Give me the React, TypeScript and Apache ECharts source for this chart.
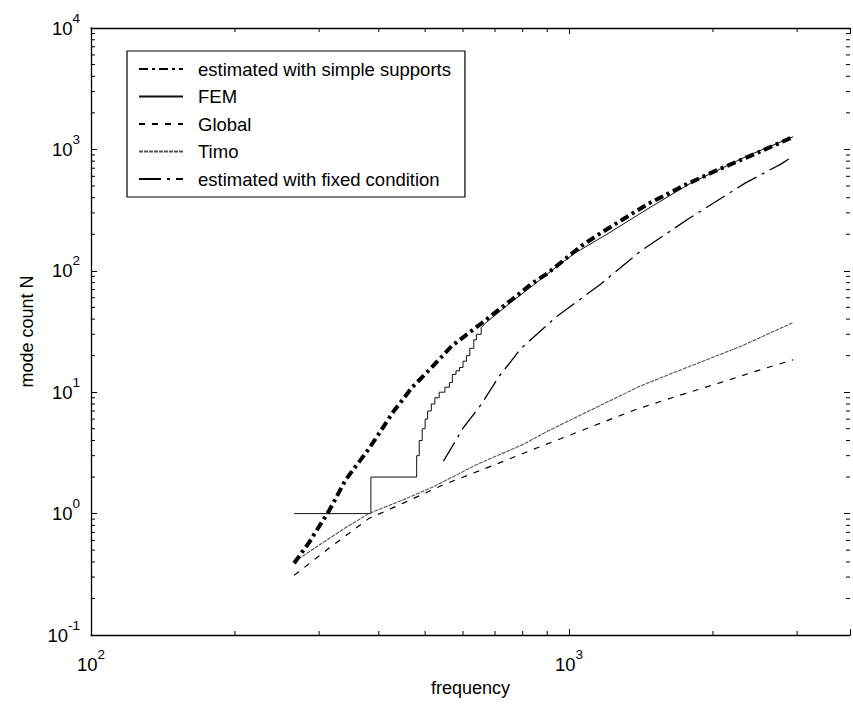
import React, { useEffect, useRef } from 'react';
import * as echarts from 'echarts';

// ---- data ----
const seriesNames = [
  'estimated with simple supports',
  'FEM',
  'Global',
  'Timo',
  'estimated with fixed condition',
];

const simpleFreq = [266, 286, 315, 341, 381, 430, 470, 516, 568, 656, 760, 834, 904, 1060, 1166, 1463, 1750, 2024, 2450, 2943];
const simpleN = [0.39, 0.58, 1.06, 1.9, 3.4, 7.0, 11, 16, 24, 37, 58, 78, 96, 160, 205, 356, 510, 665, 920, 1267];

const femFreq = [
  266, 385, 385, 480, 480, 486, 486, 493, 493, 500, 500, 506, 506, 515, 515, 524, 524, 535, 535, 550,
  550, 562, 562, 570, 570, 580, 580, 590, 590, 600, 600, 610, 610, 620, 620, 632, 632, 640, 640, 655,
  655, 668, 720, 760, 834, 930, 1029, 1200, 1463, 1800, 2371, 2943,
];
const femN = [
  1, 1, 2, 2, 3, 3, 4, 4, 5, 5, 6, 6, 7, 7, 8, 8, 9, 9, 10, 10,
  11, 11, 12, 12, 14, 14, 15, 15, 16, 16, 18, 18, 20, 20, 23, 23, 27, 27, 30, 30,
  34, 37, 47, 56, 74, 104, 140, 200, 325, 530, 890, 1270,
];

const globalFreq = [266, 315, 381, 450, 546, 700, 861, 1100, 1392, 1700, 2073, 2500, 2943];
const globalN = [0.31, 0.52, 0.91, 1.22, 1.73, 2.53, 3.5, 5.1, 7.3, 9.4, 12.0, 15.2, 18.5];

const timoFreq = [266, 300, 340, 381, 450, 516, 650, 800, 904, 1100, 1413, 1800, 2295, 2943];
const timoN = [0.4, 0.55, 0.76, 1.0, 1.3, 1.64, 2.6, 3.7, 4.8, 7.0, 11.3, 16.5, 24, 37.5];

const fixedFreq = [546, 601, 656, 711, 794, 935, 1166, 1413, 1778, 2340, 2780, 2943];
const fixedN = [2.7, 5.1, 8.0, 13.2, 23, 41, 78, 146, 268, 530, 760, 880];

const xRange = [100, 3870];
const yRange = [0.1, 10000];
const xMinorTicks = [200, 300, 400, 500, 600, 700, 800, 900, 2000, 3000];
const yMinorTicks = [
  0.2, 0.3, 0.4, 0.5, 0.6, 0.7, 0.8, 0.9,
  2, 3, 4, 5, 6, 7, 8, 9,
  20, 30, 40, 50, 60, 70, 80, 90,
  200, 300, 400, 500, 600, 700, 800, 900,
  2000, 3000, 4000, 5000, 6000, 7000, 8000, 9000,
];
const xTitle = 'frequency';
const yTitle = 'mode count N';

const FONT = '"Liberation Sans", Arial, Helvetica, sans-serif';

const zip = (xs: number[], ys: number[]) => xs.map((x, i) => [x, ys[i]]);

const powLabel = (v: number) => {
  const l = Math.log10(v);
  const e = Math.round(l);
  if (Math.abs(l - e) > 1e-6) return '';
  return `{b|10}{s|${e}}`;
};

const rich = {
  b: { fontSize: 18.5, lineHeight: 34, fontFamily: FONT, color: '#000' },
  s: { fontSize: 13.5, lineHeight: 13, verticalAlign: 'top', fontFamily: FONT, color: '#000' },
};

const axisLineStyle = { color: '#000', width: 1.3 };

export default function App() {
  const ref = useRef<HTMLDivElement>(null);

  useEffect(() => {
    if (!ref.current) return;
    const chart = echarts.init(ref.current, undefined, { renderer: 'svg' });

    const tickStyle = { stroke: '#000', lineWidth: 1 };

    const option: any = {
      animation: false,
      backgroundColor: '#fff',
      grid: { left: 91, top: 28, right: 0, bottom: 69, containLabel: false },
      legend: {
        orient: 'vertical',
        left: 127,
        top: 51,
        data: seriesNames,
        itemWidth: 44,
        itemHeight: 14,
        itemGap: 7.5,
        padding: [8, 14, 8, 11],
        borderColor: '#000',
        borderWidth: 1.2,
        backgroundColor: '#fff',
        itemStyle: { opacity: 0 },
        textStyle: { fontSize: 18.5, fontFamily: FONT, color: '#000', lineHeight: 20, padding: [0, 0, 0, 10] },
      },
      xAxis: [
        {
          type: 'log',
          logBase: 10,
          min: xRange[0],
          max: xRange[1],
          position: 'bottom',
          axisLine: { show: true, lineStyle: axisLineStyle },
          axisTick: { show: true, inside: true, length: 6, lineStyle: { color: '#000', width: 1 } },
          axisLabel: { formatter: powLabel, rich, margin: 12, color: '#000' },
          splitLine: { show: false },
          name: xTitle,
          nameLocation: 'middle',
          nameGap: 44,
          nameTextStyle: { fontSize: 18, fontFamily: FONT, color: '#000' },
        },
        {
          type: 'log',
          logBase: 10,
          min: xRange[0],
          max: xRange[1],
          position: 'top',
          axisLine: { show: true, lineStyle: axisLineStyle },
          axisTick: { show: true, inside: true, length: 6, lineStyle: { color: '#000', width: 1 } },
          axisLabel: { show: false },
          splitLine: { show: false },
        },
      ],
      yAxis: [
        {
          type: 'log',
          logBase: 10,
          min: yRange[0],
          max: yRange[1],
          position: 'left',
          axisLine: { show: true, lineStyle: axisLineStyle },
          axisTick: { show: true, inside: true, length: 6, lineStyle: { color: '#000', width: 1 } },
          axisLabel: { formatter: powLabel, rich, margin: 11, color: '#000' },
          splitLine: { show: false },
          name: yTitle,
          nameLocation: 'middle',
          nameGap: 55,
          nameRotate: 90,
          nameTextStyle: { fontSize: 18, fontFamily: FONT, color: '#000' },
        },
        {
          type: 'log',
          logBase: 10,
          min: yRange[0],
          max: yRange[1],
          position: 'right',
          axisLine: { show: false },
          axisTick: { show: true, inside: true, length: 6, lineStyle: { color: '#000', width: 1 } },
          axisLabel: { show: false },
          splitLine: { show: false },
        },
      ],
      series: [
        {
          name: seriesNames[0],
          type: 'line',
          data: zip(simpleFreq, simpleN),
          symbol: 'none',
          z: 5,
          itemStyle: { color: '#000' },
          lineStyle: { color: '#000', width: 4, type: [9, 4, 3, 4], cap: 'butt' },
        },
        {
          name: seriesNames[1],
          type: 'line',
          data: zip(femFreq, femN),
          symbol: 'none',
          z: 3,
          itemStyle: { color: '#111' },
          lineStyle: { color: '#111', width: 1 },
        },
        {
          name: seriesNames[2],
          type: 'line',
          data: zip(globalFreq, globalN),
          symbol: 'none',
          z: 3,
          itemStyle: { color: '#000' },
          lineStyle: { color: '#000', width: 1.2, type: [6, 7] },
        },
        {
          name: seriesNames[3],
          type: 'line',
          data: zip(timoFreq, timoN),
          symbol: 'none',
          z: 3,
          itemStyle: { color: '#555' },
          lineStyle: { color: '#555', width: 1.1, type: [4, 1] },
        },
        {
          name: seriesNames[4],
          type: 'line',
          data: zip(fixedFreq, fixedN),
          symbol: 'none',
          z: 3,
          itemStyle: { color: '#000' },
          lineStyle: { color: '#000', width: 1.3, type: [22, 6, 3, 6] },
        },
        {
          type: 'custom',
          silent: true,
          clip: false,
          z: 1,
          data: xMinorTicks.map((v) => [v, 1]),
          renderItem: (params: any, api: any) => {
            const x = api.coord([api.value(0), 1])[0];
            const cs = params.coordSys;
            const yb = cs.y + cs.height;
            return {
              type: 'group',
              children: [
                { type: 'line', shape: { x1: x, y1: yb, x2: x, y2: yb - 4 }, style: tickStyle },
                { type: 'line', shape: { x1: x, y1: cs.y, x2: x, y2: cs.y + 4 }, style: tickStyle },
              ],
            };
          },
        },
        {
          type: 'custom',
          silent: true,
          clip: false,
          z: 1,
          data: yMinorTicks.map((v) => [xRange[0], v]),
          renderItem: (params: any, api: any) => {
            const y = api.coord([xRange[0], api.value(1)])[1];
            const cs = params.coordSys;
            const xr = cs.x + cs.width;
            return {
              type: 'group',
              children: [
                { type: 'line', shape: { x1: cs.x, y1: y, x2: cs.x + 4, y2: y }, style: tickStyle },
                { type: 'line', shape: { x1: xr, y1: y, x2: xr - 4, y2: y }, style: tickStyle },
              ],
            };
          },
        },
      ],
    };

    chart.setOption(option);
    return () => chart.dispose();
  }, []);

  return (
    <div
      ref={ref}
      style={{ position: 'absolute', left: 0, top: 0, width: 853, height: 704, background: '#fff' }}
    />
  );
}
